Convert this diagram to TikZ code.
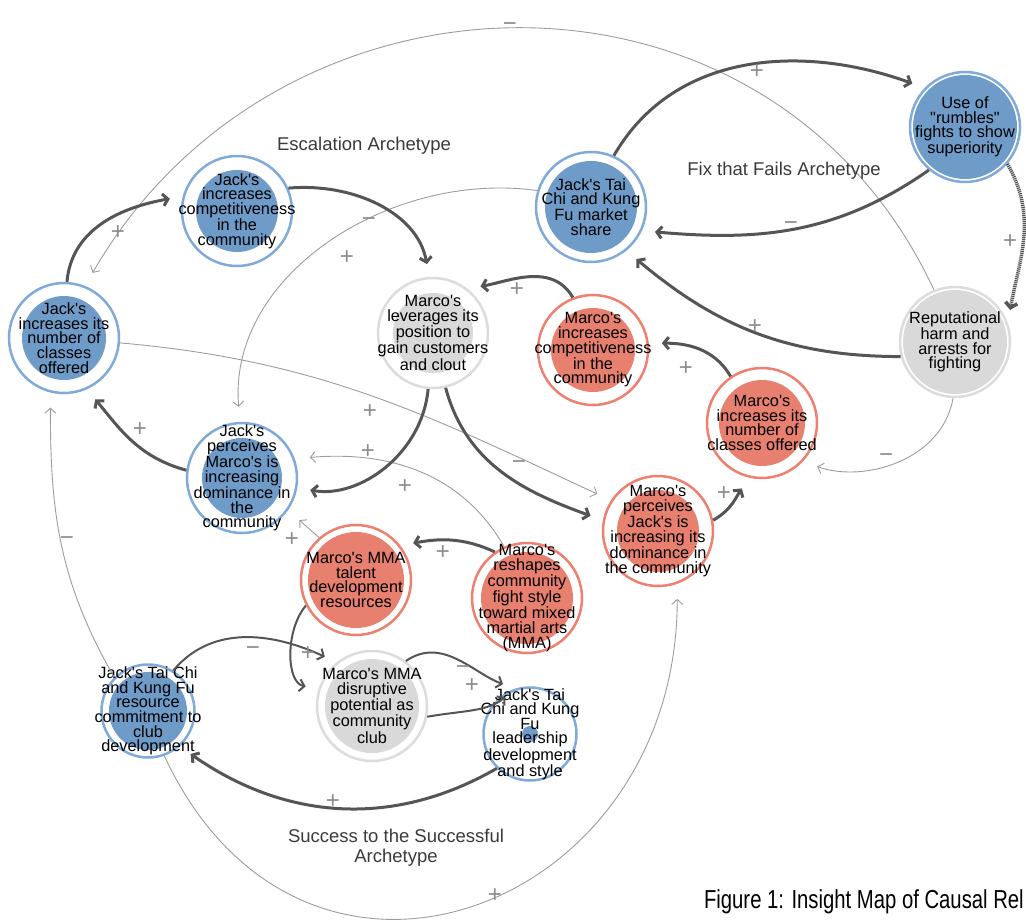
\documentclass[tikz,border=0pt]{standalone}
\usepackage{fontspec}
\setmainfont{Liberation Sans}[Ligatures=TeXOff]
\newfontfamily\captionfont[FakeStretch=0.78]{Liberation Sans}
\usepackage{tikz}
\usetikzlibrary{arrows.meta}

\definecolor{jring}{HTML}{7FAADA}
\definecolor{jfill}{HTML}{6F9BC8}
\definecolor{mring}{HTML}{EF7F6F}
\definecolor{mfill}{HTML}{E8806F}
\definecolor{oring}{HTML}{DCDCDC}
\definecolor{ofill}{HTML}{D9D9D9}
\definecolor{arrowgray}{HTML}{555555}
\definecolor{thingray}{HTML}{9C9C9C}
\definecolor{signgray}{HTML}{8C8C8C}
\definecolor{titlegray}{HTML}{3A3A3A}

\newcommand\nodefont{\fontsize{16.3}{14.6}\selectfont}

\begin{document}
\begin{tikzpicture}[x=1pt,y=-1pt]
    \tikzstyle{edge}  = [line width=3pt,->,>={Straight Barb[length=5pt,width=12pt]},draw=arrowgray,shorten >=13pt]
    \tikzstyle{medge} = [edge,line width=2pt]
    \tikzstyle{tedge} = [line width=0.9pt,->,>={Straight Barb[length=5pt,width=11pt]},draw=thingray,shorten >=15pt]
    \tikzstyle{ring}=[
      circle,
      line width=2.5pt,
      fill=white,
      minimum size=110pt,
      inner sep=-30pt,
      align=center,
      font=\nodefont,
    ]
    \tikzstyle{small}=[minimum size=93pt]
    \tikzstyle{sign}=[text=signgray,font=\fontsize{24}{24}\selectfont,inner sep=0pt]
    \tikzstyle{archetype}=[text=titlegray,font=\fontsize{18.5}{20}\selectfont,align=center]
    \tikzset{
      jack/.style={ring,draw=jring,path picture={\fill[jfill] (path picture bounding box.center) circle (#1pt);}},
      marco/.style={ring,draw=mring,path picture={\fill[mfill] (path picture bounding box.center) circle (#1pt);}},
      other/.style={ring,draw=oring,path picture={\fill[ofill] (path picture bounding box.center) circle (#1pt);}},
    }

    \useasboundingbox (0,0) rectangle (1026,924);

    \node[jack=41] (jcomp) at (237,211) {Jack's\\increases\\competitiveness\\in the\\community};
    \node[jack=42] (jclass) at (64,338) {Jack's\\increases its\\number of\\classes\\offered};
    \node[jack=46] (jmarket) at (591,207) {Jack's Tai\\Chi and Kung\\Fu market\\share};
    \node[jack=52] (rumbles) at (965,127) {Use of\\"rumbles"\\fights to show\\superiority};
    \node[other=40] (mleverage) at (433,333) {Marco's\\leverages its\\position to\\gain customers\\and clout};
    \node[marco=42] (mcomp) at (593,350) {Marco's\\increases\\competitiveness\\in the\\community};
    \node[other=52] (reput) at (955,342) {Reputational\\harm and\\arrests for\\fighting};
    \node[marco=43] (mclass) at (762,423) {Marco's\\increases its\\number of\\classes offered};
    \node[jack=40] (jperc) at (242,478) {Jack's\\perceives\\Marco's is\\increasing\\dominance in\\the\\community};
    \node[marco=41] (mperc) at (658,531) {Marco's\\perceives\\Jack's is\\increasing its\\dominance in\\the community};
    \node[marco=48] (mtalent) at (356,580) {Marco's MMA\\talent\\development\\resources};
    \node[marco=46] (mreshape) at (527,598) {Marco's\\reshapes\\community\\fight style\\toward mixed\\martial arts\\(MMA)};
    \node[jack=39,small] (jresource) at (148,711) {Jack's Tai Chi\\and Kung Fu\\resource\\commitment to\\club\\development};
    \node[other=47] (mdisrupt) at (372,706) {Marco's MMA\\disruptive\\potential as\\community\\club};
    \node[jack=8,small] (jlead) at (530,734) {Jack's Tai\\Chi and Kung\\Fu\\leadership\\development\\and style};

    % thin links
    \draw[tedge] (reput.112) to[out=115,in=60,looseness=1.17] (jclass.68);
    \draw[tedge] (jmarket.163) to[out=172,in=95] (jperc.92);
    \draw[tedge] (jclass.-5) to[out=-5,in=155] (mperc.147);
    \draw[tedge] (mreshape.114) to[out=120,in=5] (jperc.20);
    \draw[tedge] (mtalent.131) -- (jperc.-35);
    \draw[tedge] (reput.-92) to[out=-100,in=-20] (mclass.-43);
    \draw[tedge] (jresource.-70) to[out=-65,in=-90,looseness=1.55] (mperc.-70);
    \draw[tedge] (jresource.135) to[out=120,in=-90] (jclass.-104);

    % thick links
    \draw[edge] (jclass.87) to[out=85,in=190] (jcomp.165);
    \draw[edge] (jcomp.24) to[out=5,in=100] (mleverage.94);
    \draw[edge] (jmarket.66) to[out=60,in=160] (rumbles.136);
    \draw[edge] (rumbles.230) to[out=215,in=-5] (jmarket.-25);
    \draw[edge,line width=3.5pt,dash pattern=on 1.2pt off 0.8pt] (rumbles.-41) to[out=-60,in=80] (reput.20);
    \draw[edge] (reput.195) to[out=180,in=-40] (jmarket.-51);
    \draw[edge] (mclass.124) to[out=120,in=0] (mcomp.7);
    \draw[edge] (mcomp.111) to[out=120,in=10] (mleverage.52);
    \draw[edge] (mleverage.265) to[out=-95,in=-10] (jperc.-10);
    \draw[edge] (mleverage.-77) to[out=-75,in=160] (mperc.169);
    \draw[edge] (jperc.172) to[out=165,in=-50] (jclass.-66);
    \draw[edge] (mperc.11) to[out=30,in=-125] (mclass.-103);
    \draw[edge] (mreshape.125) to[out=155,in=10] (mtalent.38);
    \draw[medge] (jresource.58) to[out=50,in=155] (mdisrupt.129);
    \draw[medge] (mtalent.207) to[out=230,in=170] (mdisrupt.162);
    \draw[medge] (mdisrupt.53) to[out=35,in=160] (jlead.108);
    \draw[medge] (mdisrupt.-11) to[out=10,in=-140] (jlead.108);
    \draw[edge] (jlead.226) to[out=210,in=-35] (jresource.-48);

    % signs
    \node[sign] (s1) at (510,27) {−};
    \node[sign] (s2) at (118,233) {+};
    \node[sign] (s3) at (757,72) {+};
    \node[sign] (s4) at (369,222) {−};
    \node[sign] (s5) at (347,258) {+};
    \node[sign] (s6) at (791,226) {−};
    \node[sign] (s7) at (1010,242) {+};
    \node[sign] (s8) at (517,290) {+};
    \node[sign] (s9) at (755,327) {+};
    \node[sign] (s10) at (686,369) {+};
    \node[sign] (s11) at (140,430) {+};
    \node[sign] (s12) at (370,412) {+};
    \node[sign] (s13) at (368,452) {+};
    \node[sign] (s14) at (405,487) {+};
    \node[sign] (s15) at (519,465) {−};
    \node[sign] (s16) at (724,494) {+};
    \node[sign] (s17) at (886,458) {−};
    \node[sign] (s18) at (292,540) {+};
    \node[sign] (s19) at (443,553) {+};
    \node[sign] (s20) at (67,541) {−};
    \node[sign] (s21) at (253,651) {−};
    \node[sign] (s22) at (308,654) {+};
    \node[sign] (s23) at (463,670) {−};
    \node[sign] (s24) at (472,686) {+};
    \node[sign] (s25) at (333,802) {+};
    \node[sign] (s26) at (495,896) {+};

    \node[archetype] (escalation) at (364,146) {Escalation Archetype};
    \node[archetype] (fixfails) at (784,171) {Fix that Fails Archetype};
    \node[archetype] (success) at (396,848) {Success to the Successful\\Archetype};
    \node[anchor=base east,inner sep=0pt,font=\captionfont\fontsize{26}{28}\selectfont] (caption) at (1024,908) {Figure 1: Insight Map of Causal Rel};
\end{tikzpicture}
\end{document}
